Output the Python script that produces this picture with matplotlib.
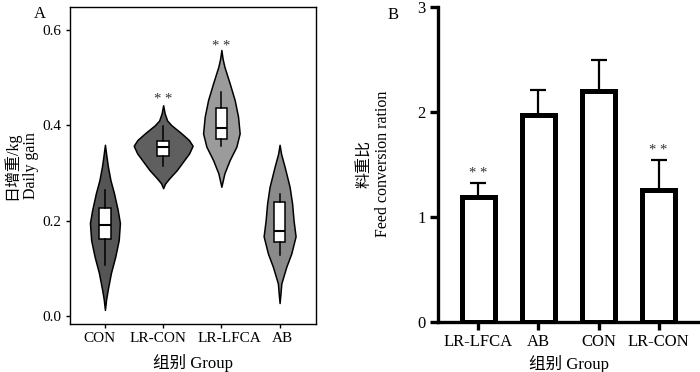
import numpy as np
import matplotlib
matplotlib.use('Agg')
import matplotlib.pyplot as plt
import matplotlib.transforms as mtransforms

plt.rcParams['font.family'] = ['Liberation Serif', 'Noto Sans CJK SC']
plt.rcParams['font.size'] = 12

# ---------------- Panel A data ----------------
groups_a = ['CON', 'LR-CON', 'LR-LFCA', 'AB']
violin_colors = ['#555555', '#5f5f5f', '#9b9b9b', '#8a8a8a']

# violin outline profiles: y values and relative density
con_y = [0.0126, 0.035, 0.055, 0.09, 0.124, 0.159, 0.195, 0.222, 0.258, 0.285, 0.313, 0.335, 0.359]
con_d = [0, 1.2, 2.8, 6.0, 10.3, 13.8, 15.0, 12.8, 9.0, 5.5, 3.0, 1.5, 0]
lrcon_y = [0.268, 0.278, 0.289, 0.306, 0.324, 0.341, 0.357, 0.369, 0.383, 0.400, 0.410, 0.425, 0.442]
lrcon_d = [0, 2.0, 6.3, 13.7, 20.0, 26.0, 29.5, 25.8, 18.3, 8.3, 4.0, 1.5, 0]
lrlfca_y = [0.271, 0.285, 0.299, 0.327, 0.355, 0.383, 0.418, 0.453, 0.488, 0.523, 0.540, 0.558]
lrlfca_d = [0, 1.5, 3.0, 8.3, 15.0, 18.3, 16.7, 13.3, 8.3, 3.0, 1.2, 0]
ab_y = [0.027, 0.045, 0.068, 0.103, 0.131, 0.167, 0.200, 0.236, 0.271, 0.313, 0.340, 0.359]
ab_d = [0, 0.8, 1.7, 6.7, 11.7, 16.0, 14.0, 12.5, 10.0, 5.0, 1.5, 0]
profiles_y = [con_y, lrcon_y, lrlfca_y, ab_y]
profiles_d = [con_d, lrcon_d, lrlfca_d, ab_d]

# box plot statistics
box_q1 = [0.161, 0.336, 0.371, 0.156]
box_med = [0.191, 0.355, 0.394, 0.179]
box_q3 = [0.227, 0.367, 0.436, 0.240]
box_lo = [0.107, 0.315, 0.357, 0.128]
box_hi = [0.264, 0.399, 0.470, 0.256]

sig_a_groups = ['LR-CON', 'LR-LFCA']
sig_a_y = [0.455, 0.565]

# ---------------- Panel B data ----------------
groups_b = ['LR-LFCA', 'AB', 'CON', 'LR-CON']
fcr_mean = [1.19, 1.97, 2.20, 1.255]
fcr_err = [0.13, 0.235, 0.29, 0.285]
sig_b_groups = ['LR-LFCA', 'LR-CON']
sig_b_y = [1.41, 1.63]

fig = plt.figure(figsize=(7.0, 3.72), dpi=100)

# ---------------- Panel A ----------------
axA = fig.add_axes([0.1, 0.129, 0.351, 0.852])
pos_a = np.arange(len(groups_a))
px_per_unit = 58.3
vpstats = []
widths = []
for ys, ds, m in zip(profiles_y, profiles_d, box_med):
    ys = np.array(ys); ds = np.array(ds)
    vpstats.append(dict(coords=ys, vals=ds, mean=m, median=m, min=ys.min(), max=ys.max()))
    widths.append(2 * ds.max() / px_per_unit)
vp = axA.violin(vpstats, positions=pos_a, widths=widths, showmeans=False,
                showextrema=False, showmedians=False)
for body, c in zip(vp['bodies'], violin_colors):
    body.set_facecolor(c)
    body.set_edgecolor('black')
    body.set_linewidth(1.1)
    body.set_alpha(1)

bxpstats = []
for q1, med, q3, lo, hi in zip(box_q1, box_med, box_q3, box_lo, box_hi):
    bxpstats.append(dict(q1=q1, med=med, q3=q3, whislo=lo, whishi=hi, fliers=[]))
axA.bxp(bxpstats, positions=pos_a, widths=0.2, patch_artist=True, showcaps=False,
        showfliers=False, manage_ticks=False,
        boxprops=dict(facecolor='white', edgecolor='black', linewidth=1.1),
        medianprops=dict(color='black', linewidth=1.5),
        whiskerprops=dict(color='black', linewidth=1.1))

for g, y in zip(sig_a_groups, sig_a_y):
    axA.text(groups_a.index(g), y, '* *', ha='center', va='center', fontsize=10.5, color='#333333')

axA.set_xlim(-0.6, 3.62)
axA.set_ylim(-0.017, 0.648)
axA.set_xticks(pos_a)
axA.set_xticklabels(groups_a)
axA.set_yticks([0.0, 0.2, 0.4, 0.6])
axA.set_yticklabels(['0.0', '0.2', '0.4', '0.6'])
axA.tick_params(direction='out', length=3, width=1, labelsize=11, pad=3)
# small horizontal offsets of the category labels as in the reference
label_shift_px = [-5, -5, 8, 2.5]
for lab, dx in zip(axA.get_xticklabels(), label_shift_px):
    lab.set_transform(lab.get_transform() +
                      mtransforms.ScaledTranslation(dx / 100, 0, fig.dpi_scale_trans))
for s in axA.spines.values():
    s.set_linewidth(1.0)
axA.set_ylabel('日增重/kg\nDaily gain', fontsize=11.5, linespacing=1.2)
axA.yaxis.set_label_coords(-0.128, 0.5)
axA.set_xlabel('组别 Group', fontsize=12)
axA.xaxis.set_label_coords(0.5, -0.095)
fig.text(0.057, 0.985, 'A', fontsize=12, ha='center', va='top')

# ---------------- Panel B ----------------
axB = fig.add_axes([0.626, 0.135, 0.374, 0.847])
pos_b = np.arange(len(groups_b))
axB.errorbar(pos_b, fcr_mean, yerr=[np.zeros(len(fcr_err)), fcr_err], fmt='none',
             ecolor='black', elinewidth=1.6, capsize=6, capthick=1.6, zorder=1)
axB.bar(pos_b, fcr_mean, width=0.55, color='white', edgecolor='black', linewidth=3.6, zorder=2)
for g, y in zip(sig_b_groups, sig_b_y):
    axB.text(groups_b.index(g), y, '* *', ha='center', va='center', fontsize=10.5, color='#333333')

axB.set_xlim(-0.67, 3.69)
axB.set_ylim(0, 3)
axB.set_xticks(pos_b)
axB.set_xticklabels(groups_b)
axB.set_yticks([0, 1, 2, 3])
axB.spines['top'].set_visible(False)
axB.spines['right'].set_visible(False)
axB.spines['left'].set_linewidth(2.4)
axB.spines['bottom'].set_linewidth(2.4)
axB.tick_params(direction='out', length=6, width=2.4, labelsize=12, pad=3)
axB.set_ylabel('料重比\nFeed conversion ration', fontsize=11.5, linespacing=1.2)
axB.yaxis.set_label_coords(-0.18, 0.5)
axB.set_xlabel('组别 Group', fontsize=12)
axB.xaxis.set_label_coords(0.5, -0.105)
fig.text(0.562, 0.98, 'B', fontsize=12, ha='center', va='top')

fig.savefig('out.png', dpi=100)
